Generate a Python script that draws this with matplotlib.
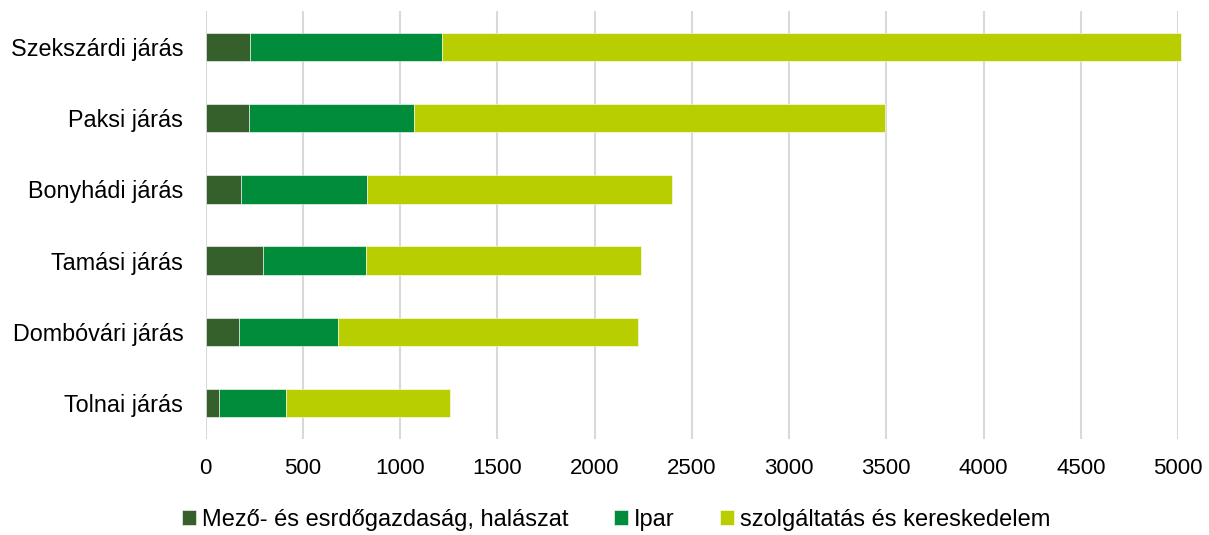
import numpy as np
import matplotlib
matplotlib.use("Agg")
import matplotlib.pyplot as plt

plt.rcParams['font.family'] = ['Liberation Sans', 'DejaVu Sans']

# districts, top to bottom as in the chart
jarasok = ["Szekszárdi járás", "Paksi járás", "Bonyhádi járás",
           "Tamási járás", "Dombóvári járás", "Tolnai járás"]
mezogazdasag = [230, 225, 184, 297, 174, 71]
ipar = [986, 845, 645, 528, 507, 344]
szolgaltatas = [3798, 2421, 1569, 1414, 1543, 841]

series_names = ["Mező- és esrdőgazdaság, halászat", "Ipar", "szolgáltatás és kereskedelem"]
colors = ["#35602b", "#008c3a", "#b8ce00"]
x_ticks = [0, 500, 1000, 1500, 2000, 2500, 3000, 3500, 4000, 4500, 5000]

fig = plt.figure(figsize=(12.09, 5.35), dpi=100)
ax = fig.add_axes([0.170, 0.180, 0.8044, 0.7987])

y = np.arange(len(jarasok))
left = np.zeros(len(jarasok))
for vals, name, c in zip([mezogazdasag, ipar, szolgaltatas], series_names, colors):
    ax.barh(y, vals, left=left, height=0.4, color=c, label=name,
            edgecolor="white", linewidth=0.4, clip_on=False, zorder=3)
    left = left + np.array(vals)

ax.set_xlim(0, 5000)
ax.set_ylim(len(jarasok) - 0.5, -0.5)
ax.set_yticks(y)
ax.set_yticklabels(jarasok, fontsize=16.8)
ax.set_xticks(x_ticks)
ax.set_xticklabels([str(t) for t in x_ticks], fontsize=16)
ax.tick_params(length=0)
ax.tick_params(axis='y', pad=16)
ax.tick_params(axis='x', pad=14)
for s in ax.spines.values():
    s.set_visible(False)
ax.grid(axis='x', color='#d9d9d9', linewidth=1.5, zorder=0)
ax.set_axisbelow(True)

fig.legend(loc='center', bbox_to_anchor=(0.5095, 0.028), ncol=3, frameon=False,
           fontsize=17, handlelength=0.6, handleheight=0.6, handletextpad=0.25,
           columnspacing=1.93)

fig.savefig("out.png", dpi=100)
